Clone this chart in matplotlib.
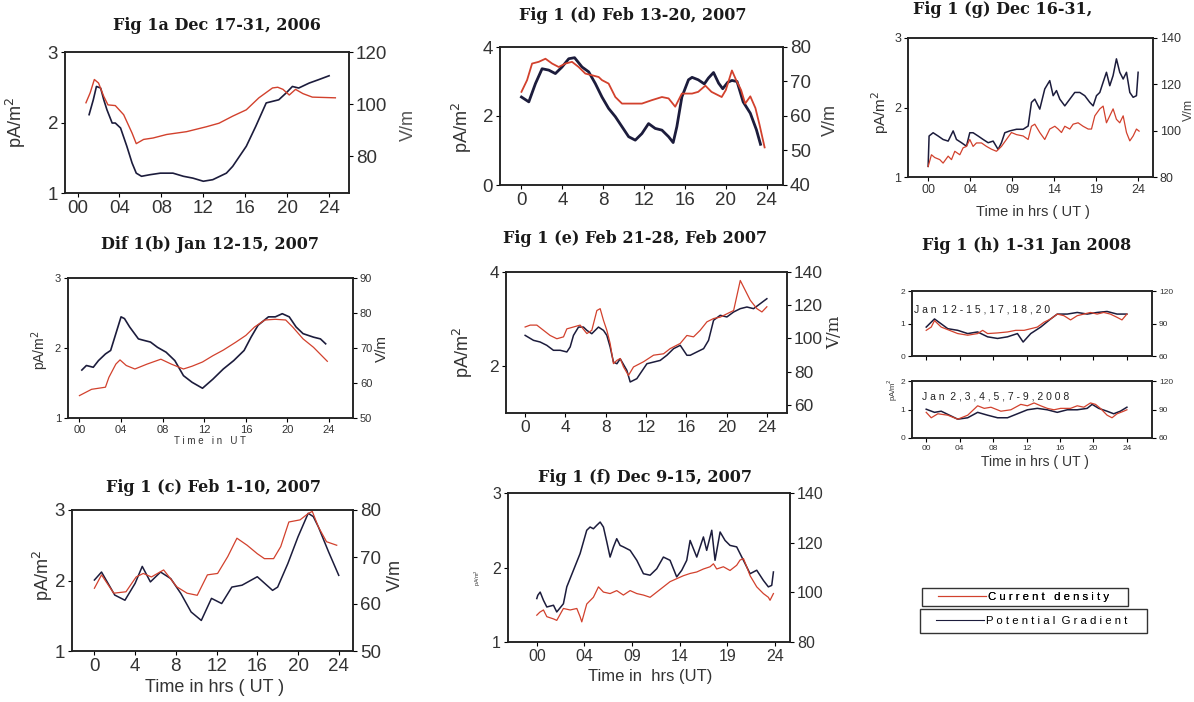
import matplotlib
matplotlib.use("Agg")
import matplotlib.pyplot as plt
from matplotlib.lines import Line2D
from matplotlib.patches import Rectangle

plt.rcParams['font.family'] = ['Liberation Sans', 'DejaVu Sans']

W, H = 1194, 702
RED = '#d2412d'
DARK = '#1c1c3c'

# ---------- Fig 1a Dec 17-31, 2006 ----------
a_hr_cd = [0.8, 1.2, 1.6, 2.0, 2.5, 2.9, 3.6, 4.4, 5.2, 5.6, 6.3, 7.2, 8.5, 10.4, 12.3, 13.5,
           14.8, 16.1, 17.3, 18.6, 19.1, 19.6, 20.2, 20.8, 21.5, 22.4, 24.6]
a_cd = [2.28, 2.42, 2.61, 2.56, 2.37, 2.25, 2.24, 2.11, 1.85, 1.70, 1.76, 1.78, 1.83, 1.87, 1.94, 1.99,
        2.09, 2.18, 2.35, 2.49, 2.50, 2.47, 2.39, 2.47, 2.41, 2.36, 2.35]
a_hr_pg = [1.1, 1.5, 1.8, 2.2, 2.5, 2.8, 3.3, 3.6, 4.1, 4.7, 5.2, 5.6, 6.1, 6.9, 7.9, 9.1, 10.1, 11.0,
           12.0, 12.9, 14.2, 14.8, 16.1, 17.0, 18.0, 19.2, 19.9, 20.5, 21.1, 22.1, 23.0, 24.0]
a_pg = [96.0, 101.7, 106.8, 106.2, 101.7, 97.9, 92.8, 92.8, 90.9, 83.9, 77.5, 73.6, 72.4, 73.0, 73.6, 73.6,
        72.4, 71.7, 70.5, 71.1, 73.6, 76.2, 83.9, 91.5, 100.5, 101.7, 104.3, 106.8, 106.2, 108.1, 109.4, 110.9]

# ---------- Dif 1(b) Jan 12-15, 2007 ----------
b_hr_cd = [0, 1.17, 2.5, 2.83, 3.5, 3.9, 4.5, 5.33, 6.5, 7.83, 8.83, 10.0, 10.83, 11.83, 12.83, 13.83,
           15.0, 16.0, 16.83, 17.83, 18.83, 19.83, 20.5, 21.5, 22.5, 23.83]
b_cd = [1.32, 1.41, 1.44, 1.58, 1.77, 1.83, 1.75, 1.70, 1.77, 1.84, 1.77, 1.70, 1.74, 1.80, 1.89, 1.97,
        2.08, 2.18, 2.30, 2.40, 2.41, 2.40, 2.30, 2.13, 2.01, 1.81]
b_hr_pg = [0.23, 0.67, 1.33, 1.83, 2.5, 3.0, 3.5, 4.0, 4.33, 4.83, 5.67, 6.17, 6.83, 7.5, 8.33, 9.17,
           10.0, 10.83, 11.83, 12.83, 13.83, 14.83, 15.83, 16.5, 17.17, 18.17, 18.83, 19.5, 20.17,
           20.83, 21.5, 22.5, 23.17, 23.67]
b_pg = [63.7, 65.0, 64.5, 66.4, 68.3, 69.3, 74.1, 78.9, 78.4, 76.0, 72.6, 72.2, 71.7, 70.2, 68.8, 66.4,
        62.1, 60.2, 58.5, 61.1, 64.0, 66.4, 69.3, 73.1, 76.5, 78.9, 78.9, 79.8, 78.9, 76.0, 74.1,
        73.1, 72.6, 71.2]

# ---------- Fig 1 (c) Feb 1-10, 2007 ----------
c_hr_cd = [0, 0.7, 1.9, 3.1, 4.1, 4.8, 5.6, 6.8, 8.1, 9.1, 10.1, 11.1, 12.1, 13.1, 14.0, 15.0, 16.0,
           16.7, 17.6, 18.3, 19.1, 20.2, 21.0, 21.4, 22.0, 22.8, 23.8]
c_cd = [1.89, 2.08, 1.82, 1.84, 2.05, 2.10, 2.05, 2.15, 1.91, 1.82, 1.79, 2.08, 2.10, 2.34, 2.60, 2.50,
        2.38, 2.31, 2.31, 2.48, 2.83, 2.86, 2.95, 2.98, 2.76, 2.55, 2.50]
c_hr_pg = [0, 0.7, 2, 3, 4, 4.7, 5.5, 6.5, 7.5, 8.5, 9.5, 10.5, 11.5, 12.5, 13.5, 14.5, 16, 17.5, 18,
           19, 20, 21, 21.5, 22, 23, 24]
c_pg = [65.1, 66.8, 61.9, 60.8, 64.4, 68.0, 64.7, 66.8, 65.4, 62.2, 58.3, 56.5, 61.2, 60.1, 63.6, 64.0,
        65.8, 62.9, 63.6, 68.6, 74.3, 79.3, 78.6, 76.4, 71.1, 66.1]

# ---------- Fig 1 (d) Feb 13-20, 2007 ----------
d_hr_cd = [0, 0.55, 1.04, 1.69, 2.35, 3.0, 3.65, 4.3, 4.95, 5.6, 6.25, 6.91, 7.56, 7.88, 8.53, 9.19,
           9.84, 10.81, 11.79, 12.77, 13.75, 14.4, 15.05, 15.7, 16.7, 17.3, 18.0, 18.6, 19.6, 20.0,
           20.6, 21.0, 21.5, 21.9, 22.4, 22.9, 23.3, 23.8]
d_cd = [2.70, 3.04, 3.52, 3.57, 3.66, 3.52, 3.42, 3.52, 3.57, 3.42, 3.23, 3.18, 3.13, 3.04, 2.94, 2.55,
        2.36, 2.36, 2.36, 2.46, 2.55, 2.51, 2.27, 2.65, 2.65, 2.70, 2.88, 2.70, 2.55, 2.75,
        3.32, 3.05, 2.75, 2.36, 2.57, 2.23, 1.75, 1.09]
d_hr_pg = [0, 0.72, 1.37, 2.02, 2.67, 3.32, 3.97, 4.63, 5.2, 5.93, 6.58, 7.23, 7.88, 8.53, 9.19, 9.84,
           10.49, 11.14, 11.79, 12.44, 13.09, 13.75, 14.4, 14.85, 15.21, 15.7, 16.35, 16.7, 17.3, 17.9,
           18.3, 18.8, 19.3, 19.7, 20.2, 20.6, 21.1, 21.7, 22.4, 23.0, 23.4]
d_pg = [65.5, 64.1, 69.4, 73.7, 73.3, 72.3, 74.2, 76.6, 76.9, 74.2, 72.8, 69.4, 65.5, 62.2, 59.8, 56.9,
        54.0, 53.0, 54.9, 57.8, 56.4, 55.9, 54.0, 52.3, 56.9, 65.5, 70.5, 71.2, 70.5, 69.3,
        71.0, 72.6, 69.5, 67.9, 69.8, 70.3, 70.0, 64.1, 60.8, 56.0, 51.8]

# ---------- Fig 1 (e) Feb 21-28, Feb 2007 ----------
e_hr_cd = [0, 0.5, 1.16, 1.82, 2.48, 3.15, 3.81, 4.14, 4.8, 5.46, 6.13, 6.62, 7.12, 7.45, 7.78, 8.11,
           8.44, 8.77, 9.11, 9.44, 9.77, 10.26, 10.76, 11.75, 12.75, 13.74, 14.4, 15.4, 16.06, 16.72,
           17.38, 18.05, 18.71, 19.37, 20.03, 20.7, 21.03, 21.36, 21.69, 22.35, 23.01, 23.51, 24.0]
e_cd = [2.83, 2.87, 2.87, 2.76, 2.65, 2.58, 2.62, 2.79, 2.83, 2.87, 2.69, 2.76, 3.18, 3.22, 2.97, 2.76,
        2.48, 2.05, 2.12, 2.16, 1.98, 1.80, 1.98, 2.09, 2.23, 2.26, 2.37, 2.48, 2.65, 2.62,
        2.76, 2.94, 3.01, 3.04, 3.11, 3.18, 3.50, 3.82, 3.68, 3.40, 3.22, 3.15, 3.26]
e_hr_pg = [0, 0.83, 1.49, 2.15, 2.81, 3.48, 4.14, 4.47, 4.8, 5.3, 5.79, 6.13, 6.62, 6.95, 7.28, 7.78,
           8.11, 8.44, 8.77, 9.11, 9.44, 10.1, 10.43, 10.76, 11.09, 11.42, 12.09, 12.75, 13.41, 14.07,
           14.74, 15.4, 15.73, 16.06, 16.39, 17.05, 17.72, 18.21, 18.71, 19.37, 20.03, 20.7, 21.36,
           22.02, 22.68, 23.34, 24.0]
e_pg = [101.8, 98.8, 97.8, 95.8, 92.8, 92.8, 91.8, 94.8, 101.8, 106.8, 106.8, 104.8, 102.8, 104.8, 106.8,
        104.8, 101.8, 94.8, 85.7, 84.7, 87.7, 80.7, 73.7, 74.7, 75.7, 78.7, 84.7, 85.7, 86.7, 89.8,
        93.8, 95.8, 92.8, 89.8, 89.8, 91.8, 93.8, 98.8, 110.9, 113.9, 112.9, 115.9, 117.9, 118.9,
        117.9, 120.9, 123.9]

# ---------- Fig 1 (f) Dec 9-15, 2007 ----------
f_hr_cd = [0, 0.3, 0.67, 1.01, 1.68, 2.01, 2.68, 3.36, 4.03, 4.36, 4.53, 5.03, 5.7, 6.21, 6.71, 7.38,
           8.05, 8.72, 9.4, 10.07, 10.74, 11.41, 12.08, 12.75, 13.42, 14.09, 14.77, 15.44, 16.11,
           16.78, 17.45, 17.79, 18.12, 18.79, 19.46, 20.13, 20.47, 20.81, 21.14, 21.48, 22.15, 22.82,
           23.32, 23.49, 23.83]
f_cd = [1.36, 1.40, 1.43, 1.34, 1.31, 1.29, 1.45, 1.43, 1.45, 1.34, 1.27, 1.51, 1.60, 1.74, 1.67, 1.65,
        1.69, 1.63, 1.69, 1.65, 1.63, 1.60, 1.67, 1.74, 1.81, 1.85, 1.89, 1.92, 1.94, 1.98,
        2.01, 2.05, 1.98, 2.01, 1.96, 2.03, 2.10, 2.12, 2.01, 1.89, 1.74, 1.65, 1.60, 1.56, 1.65]
f_hr_pg = [0, 0.1, 0.34, 0.67, 1.01, 1.68, 2.01, 2.68, 3.02, 3.69, 4.36, 5.03, 5.37, 5.7, 6.04, 6.38,
           6.71, 7.05, 7.38, 7.72, 8.05, 8.39, 8.72, 9.4, 10.07, 10.74, 11.41, 12.08, 12.75, 13.42,
           14.09, 14.6, 15.1, 15.44, 16.11, 16.78, 17.11, 17.62, 17.95, 18.46, 18.96, 19.46, 20.13,
           20.81, 21.48, 22.15, 22.82, 23.32, 23.66, 23.83]
f_pg = [97.5, 98.8, 100.1, 96.8, 94.1, 94.8, 92.1, 95.4, 102.2, 108.9, 115.6, 125.0, 126.3, 125.6, 127.0,
        128.3, 126.3, 120.3, 114.2, 118.3, 121.6, 118.9, 118.3, 116.9, 112.9, 107.5, 106.9, 109.5,
        114.2, 112.9, 106.2, 108.9, 112.9, 120.9, 114.2, 122.3, 116.9, 125.0, 112.9, 124.3,
        120.9, 118.9, 118.3, 112.9, 107.5, 108.9, 104.8, 102.2, 102.8, 108.2]

# ---------- Fig 1 (g) Dec 16-31, ----------
g_hr_cd = [0, 0.38, 0.76, 1.33, 1.71, 2.29, 2.67, 3.05, 3.62, 4.0, 4.38, 4.76, 5.14, 5.52, 6.1, 6.67,
           7.24, 7.81, 8.38, 8.95, 9.52, 10.1, 10.86, 11.43, 11.81, 12.19, 12.76, 13.33, 13.9, 14.48,
           14.86, 15.24, 15.62, 16.19, 16.57, 17.14, 17.71, 18.29, 18.67, 19.05, 19.62, 20.0, 20.38,
           20.76, 21.14, 21.52, 21.9, 22.29, 22.67, 23.05, 23.43, 23.81, 24.11]
g_cd = [1.15, 1.32, 1.28, 1.25, 1.20, 1.30, 1.25, 1.37, 1.32, 1.42, 1.44, 1.54, 1.44, 1.49, 1.49, 1.44,
        1.40, 1.37, 1.44, 1.54, 1.64, 1.61, 1.59, 1.54, 1.73, 1.76, 1.64, 1.54, 1.69, 1.73,
        1.69, 1.64, 1.73, 1.69, 1.76, 1.78, 1.73, 1.69, 1.69, 1.88, 1.98, 2.02, 1.78, 1.88, 1.98,
        1.83, 1.78, 1.88, 1.64, 1.52, 1.59, 1.69, 1.66]
g_hr_pg = [0, 0.11, 0.57, 1.14, 1.71, 2.29, 2.86, 3.24, 3.81, 4.38, 4.76, 5.14, 5.71, 6.29, 6.86, 7.43,
           8.0, 8.38, 8.76, 9.33, 10.1, 10.86, 11.43, 11.81, 12.19, 12.76, 13.33, 13.9, 14.29, 14.67,
           15.05, 15.62, 16.19, 16.76, 17.33, 17.9, 18.48, 18.86, 19.24, 19.62, 20.0, 20.38, 20.76,
           21.14, 21.52, 21.9, 22.29, 22.67, 23.05, 23.43, 23.81, 24.0]
g_pg = [84.6, 97.7, 99.1, 97.7, 96.2, 95.5, 99.9, 96.2, 94.8, 93.3, 99.1, 99.1, 97.7, 96.2, 94.8, 95.5,
        91.9, 94.8, 99.1, 99.9, 100.6, 100.6, 102.0, 112.2, 113.6, 109.3, 118.0, 121.6, 115.1, 117.3,
        113.6, 110.7, 113.6, 116.5, 116.5, 115.1, 112.2, 110.7, 115.1, 116.5, 120.9, 125.2, 119.4,
        123.8, 131.0, 125.2, 122.3, 125.2, 116.5, 114.4, 115.1, 125.2]

# ---------- Fig 1 (h) 1-31 Jan 2008 ----------
h1_hr_cd = [0, 0.6, 0.99, 1.79, 2.78, 3.77, 4.96, 6.15, 6.75, 7.34, 8.53, 9.72, 10.71, 11.71, 12.5,
            13.29, 14.09, 14.88, 15.67, 16.47, 17.26, 18.06, 18.85, 19.64, 20.44, 21.23, 22.02, 22.82,
            23.41, 24.0]
h1_cd = [0.79, 0.89, 1.09, 0.89, 0.79, 0.69, 0.64, 0.69, 0.79, 0.69, 0.71, 0.74, 0.79, 0.79, 0.84,
         0.89, 1.04, 1.14, 1.29, 1.24, 1.11, 1.24, 1.29, 1.34, 1.29, 1.34, 1.29, 1.19, 1.11, 1.29]
h1_hr_pg = [0, 0.99, 1.79, 2.58, 3.77, 4.96, 6.15, 7.34, 8.53, 9.72, 10.91, 11.59, 12.5, 13.69, 14.88,
            15.67, 16.87, 18.06, 19.25, 20.44, 21.63, 22.82, 24.0]
h1_pg = [86.7, 94.2, 89.7, 85.2, 83.7, 80.7, 82.2, 77.7, 76.2, 77.7, 80.7, 72.9, 80.7, 86.7, 94.2,
         98.7, 98.7, 100.2, 98.7, 100.2, 101.1, 98.7, 98.7]
h2_hr_cd = [0, 0.6, 1.39, 2.58, 3.77, 4.96, 6.15, 6.94, 7.74, 8.93, 10.12, 11.31, 12.1, 12.9, 13.69,
            14.48, 15.28, 16.07, 17.26, 18.06, 18.85, 19.64, 20.24, 20.83, 21.63, 22.22, 22.82, 23.61, 24.0]
h2_cd = [0.90, 0.71, 0.85, 0.80, 0.66, 0.80, 1.13, 1.04, 1.08, 0.94, 0.99, 1.18, 1.13, 1.23, 1.13,
         1.04, 0.99, 1.04, 1.04, 1.13, 1.08, 1.23, 1.18, 1.04, 0.80, 0.71, 0.85, 0.94, 0.99]
h2_hr_pg = [0, 0.99, 1.79, 2.78, 3.77, 4.96, 6.15, 7.34, 8.53, 9.72, 10.91, 12.1, 13.29, 14.48, 15.67,
            16.87, 18.06, 19.25, 19.84, 20.63, 21.63, 22.42, 23.21, 24.0]
h2_pg = [90.3, 87.0, 88.2, 84.0, 79.8, 81.3, 87.0, 84.0, 81.3, 81.3, 85.5, 89.7, 91.2, 89.7, 87.0,
         89.7, 89.7, 91.2, 95.4, 91.2, 88.2, 85.5, 88.2, 92.4]

hr4 = [0, 4, 8, 12, 16, 20, 24]
hr4_2d = ['00', '04', '08', '12', '16', '20', '24']
hr4_1d = ['0', '4', '8', '12', '16', '20', '24']
hr5 = [0, 4.8, 9.6, 14.4, 19.2, 24]
hr5_lab = ['00', '04', '09', '14', '19', '24']

fig = plt.figure(figsize=(W / 100, H / 100), dpi=100)


def ptext(x, y, s, **kw):
    kw.setdefault('ha', 'center')
    kw.setdefault('va', 'center')
    fig.text(x / W, 1 - y / H, s, **kw)


def panel(box, hr_cd, cd, hr_pg, pg, xlim, yl, yr, xt, xtl, ylt, yrt, fs, lw_cd=0.9, lw_pg=1.1):
    l, t, r, b = box
    ax = fig.add_axes([l / W, 1 - b / H, (r - l) / W, (b - t) / H])
    ax2 = ax.twinx()
    ax.set_zorder(ax2.get_zorder() + 1)
    ax.patch.set_visible(False)
    ax2.plot(hr_pg, pg, color=DARK, lw=lw_pg)
    ax.plot(hr_cd, cd, color=RED, lw=lw_cd)
    ax.set_xlim(*xlim)
    ax.set_ylim(*yl)
    ax2.set_ylim(*yr)
    ax.set_xticks(xt, xtl)
    ax.set_yticks(ylt)
    ax2.set_yticks(yrt)
    for a in (ax, ax2):
        a.tick_params(labelsize=fs, length=3, width=0.8, pad=2, labelcolor='#333333')
        for sp in a.spines.values():
            sp.set_linewidth(1.1)
            sp.set_color('#222222')
    return ax, ax2


TITLE = dict(family='DejaVu Serif', fontweight='bold', fontsize=11.5, color='#1a1a1a')

# (a)
panel((65, 52, 349, 193), a_hr_cd, a_cd, a_hr_pg, a_pg, (-1.2, 25.9), (1, 3), (66, 120),
      hr4, hr4_2d, [1, 2, 3], [80, 100, 120], 13.5, lw_cd=1.0, lw_pg=1.2)
ptext(217, 25, 'Fig 1a Dec 17-31, 2006', **TITLE)
ptext(16, 123, 'pA/m$^2$', rotation=90, fontsize=13, color='#333333')
ptext(408, 125, 'V/m', rotation=90, fontsize=13, color='#555555')

# (b)
panel((68, 278, 353, 418), b_hr_cd, b_cd, b_hr_pg, b_pg, (-1.1, 26.3), (1, 3), (50, 90),
      hr4, hr4_2d, [1, 2, 3], [50, 60, 70, 80, 90], 8, lw_pg=1.2)
ptext(210, 245, 'Dif 1(b) Jan 12-15, 2007', **TITLE)
ptext(40, 350, 'pA/m$^2$', rotation=90, fontsize=10, color='#333333')
ptext(382, 348, 'V/m', rotation=90, fontsize=11, color='#333333')
ptext(210, 441, 'T i m e   i n   U T', fontsize=7, color='#333333')

# (c)
panel((72, 510, 353, 651), c_hr_cd, c_cd, c_hr_pg, c_pg, (-2.2, 25.4), (1, 3), (50, 80),
      hr4, hr4_1d, [1, 2, 3], [50, 60, 70, 80], 13.5)
ptext(213, 487, 'Fig 1 (c) Feb 1-10, 2007', **TITLE)
ptext(43, 576, 'pA/m$^2$', rotation=90, fontsize=13, color='#333333')
ptext(395, 575, 'V/m', rotation=90, fontsize=13, color='#333333')
ptext(215, 688, 'Time in hrs ( UT )', fontsize=13, color='#333333')

# (d)
panel((500, 47, 783, 185), d_hr_cd, d_cd, d_hr_pg, d_pg, (-2.1, 25.6), (0, 4), (40, 80),
      hr4, hr4_1d, [0, 2, 4], [40, 50, 60, 70, 80], 13.5, lw_cd=1.3, lw_pg=2.0)
ptext(633, 15, 'Fig 1 (d) Feb 13-20, 2007', **TITLE)
ptext(462, 128, 'pA/m$^2$', rotation=90, fontsize=13, color='#333333')
ptext(830, 120, 'V/m', rotation=90, fontsize=13, color='#444444')

# (e)
panel((506, 272, 787, 413), e_hr_cd, e_cd, e_hr_pg, e_pg, (-1.9, 26.0), (1, 4), (55, 140),
      hr4, hr4_1d, [2, 4], [60, 80, 100, 120, 140], 12.5)
ptext(635, 238, 'Fig 1 (e) Feb 21-28, Feb 2007', **TITLE)
ptext(463, 353, 'pA/m$^2$', rotation=90, fontsize=13, color='#333333')
ptext(835, 332, 'V/m', rotation=90, fontsize=12, family='DejaVu Serif', color='#333333')

# (f)
panel((508, 493, 790, 642), f_hr_cd, f_cd, f_hr_pg, f_pg, (-2.9, 25.5), (1, 3), (80, 140),
      hr5, hr5_lab, [1, 2, 3], [80, 100, 120, 140], 11.5)
ptext(645, 478, 'Fig 1 (f) Dec 9-15, 2007', **TITLE)
ptext(478, 578, 'pA/m$^2$', rotation=90, fontsize=4, color='#333333')
ptext(650, 677, 'Time in  hrs (UT)', fontsize=12, color='#333333')

# (g)
panel((908, 38, 1153, 177), g_hr_cd, g_cd, g_hr_pg, g_pg, (-2.3, 25.7), (1, 3), (80, 140),
      hr5, hr5_lab, [1, 2, 3], [80, 100, 120, 140], 9)
ptext(1003, 10, 'Fig 1 (g) Dec 16-31,', **TITLE)
ptext(880, 112, 'pA/m$^2$', rotation=90, fontsize=11, color='#333333')
ptext(1189, 110, 'V/m', rotation=90, fontsize=9, color='#444444')
ptext(1033, 212, 'Time in hrs ( UT )', fontsize=10.5, color='#333333')

# (h) two stacked panels
ax_h1, _ = panel((912, 291, 1152, 356), h1_hr_cd, h1_cd, h1_hr_pg, h1_pg, (-1.7, 27.0), (0, 2), (60, 120),
                 hr4, ['', '', '', '', '', '', ''], [0, 1, 2], [60, 90, 120], 6)
ax_h2, _ = panel((912, 381, 1152, 438), h2_hr_cd, h2_cd, h2_hr_pg, h2_pg, (-1.7, 27.0), (0, 2), (60, 120),
                 hr4, hr4_2d, [0, 1, 2], [60, 90, 120], 6)
ax_h1.text(0.01, 0.72, 'J a n  1 2 - 1 5 , 1 7 , 1 8 , 2 0', transform=ax_h1.transAxes,
           fontsize=7.5, color='#222222', va='center')
ax_h2.text(0.04, 0.72, 'J a n  2 , 3 , 4 , 5 , 7 - 9 , 2 0 0 8', transform=ax_h2.transAxes,
           fontsize=7.5, color='#222222', va='center')
ptext(1027, 246, 'Fig 1 (h) 1-31 Jan 2008', **TITLE)
ptext(893, 390, 'pA/m$^2$', rotation=90, fontsize=5.5, color='#333333')
ptext(1035, 462, 'Time in hrs ( UT )', fontsize=10, color='#333333')

# legend: two separate boxes
for (l, t, r, b) in [(922, 588, 1128, 606), (920, 609, 1147, 633)]:
    fig.add_artist(Rectangle((l / W, 1 - b / H), (r - l) / W, (b - t) / H, transform=fig.transFigure,
                             fill=False, edgecolor='#333333', lw=1.0))
leg1 = fig.legend(handles=[Line2D([], [], color=RED, lw=0.8)], labels=['C u r r e n t   d e n s i t y'],
                  loc='center left', bbox_to_anchor=(938 / W, 1 - 597 / H), fontsize=8.2, frameon=False,
                  handlelength=4.2, borderpad=0, handletextpad=0.15, borderaxespad=0)
fig.add_artist(leg1)
fig.legend(handles=[Line2D([], [], color=DARK, lw=0.8)], labels=['P o t e n t i a l  G r a d i e n t'],
           loc='center left', bbox_to_anchor=(936 / W, 1 - 621 / H), fontsize=8.2, frameon=False,
           handlelength=4.2, borderpad=0, handletextpad=0.15, borderaxespad=0)

fig.savefig('out.png', dpi=100)
